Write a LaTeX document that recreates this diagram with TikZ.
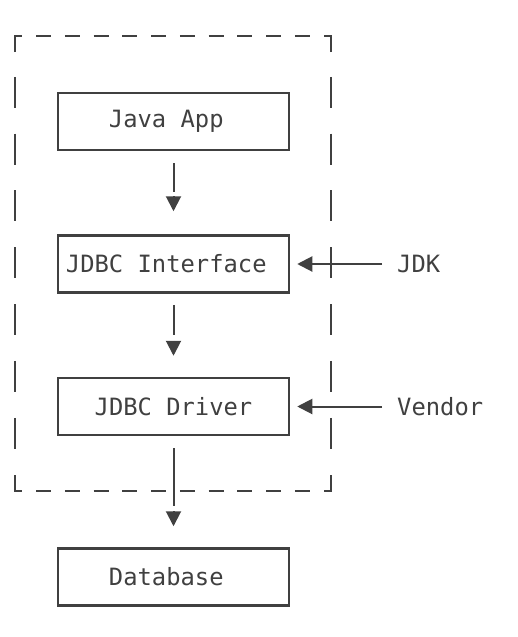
\documentclass[tikz,border=0pt]{standalone}
\usepackage{fontspec}
\setmonofont{DejaVu Sans Mono}
\usetikzlibrary{arrows.meta,calc}
\definecolor{ink}{HTML}{404040}
\begin{document}
\begin{tikzpicture}[x=1pt,y=-1pt,
  box/.style={draw=ink,line width=2.5pt,minimum width=231pt,minimum height=57pt,inner sep=0pt,
    font=\ttfamily\fontsize{23.8}{28}\selectfont,text=ink},
  lbl/.style={inner sep=0pt,anchor=west,font=\ttfamily\fontsize{23.8}{28}\selectfont,text=ink},
  conn/.style={draw=ink,line width=2pt},
  tip/.style={draw=ink,line width=2pt,-{Triangle[length=15pt,width=15pt]}},
  dashseg/.style={draw=ink,line width=2pt}]
\useasboundingbox (0,0) rectangle (517,637);
% dashed frame
\coordinate (tl) at (15,36);
\coordinate (tr) at (331,36);
\coordinate (bl) at (15,491);
\coordinate (br) at (331,491);
\draw[dashseg] (15,52) -- (tl) -- (22,36);
\draw[dashseg] (331,52) -- (tr) -- (324,36);
\draw[dashseg] (15,475) -- (bl) -- (22,491);
\draw[dashseg] (331,475) -- (br) -- (324,491);
\foreach \j in {1,...,10}{
  \pgfmathsetmacro{\cx}{15+28.73*\j}
  \draw[dashseg] (\cx-7.5,36) -- (\cx+7.5,36);
  \draw[dashseg] (\cx-7.5,491) -- (\cx+7.5,491);
}
\foreach \k in {1,...,7}{
  \pgfmathsetmacro{\cy}{20+56.83*\k}
  \draw[dashseg] (15,\cy) -- (15,\cy+31);
  \draw[dashseg] (331,\cy) -- (331,\cy+31);
}
% boxes
\node[box] (app) at (173.5,121.5) {Java App\kern14.4pt};
\node[box] (iface) at (173.5,264) {JDBC Interface\kern14.4pt};
\node[box] (drv) at (173.5,406.5) {JDBC Driver};
\node[box] (db) at (173.5,577) {Database\kern14.4pt};
% labels
\node[lbl] (jdk) at (397,264) {JDK};
\node[lbl] (vendor) at (397,406.5) {Vendor};
% vertical arrows
\draw[conn] ($(app.south)+(0,12)$) -- ($(iface.north)+(0,-42)$);
\draw[tip] ($(iface.north)+(0,-38)$) -- ($(iface.north)+(0,-23)$);
\draw[conn] ($(iface.south)+(0,11)$) -- ($(drv.north)+(0,-42)$);
\draw[tip] ($(drv.north)+(0,-36)$) -- ($(drv.north)+(0,-21)$);
\draw[conn] ($(drv.south)+(0,12)$) -- ($(db.north)+(0,-41)$);
\draw[tip] ($(db.north)+(0,-36)$) -- ($(db.north)+(0,-21)$);
% horizontal arrows
\draw[tip] ($(jdk.west)+(-15,0)$) -- ($(iface.east)+(7,0)$);
\draw[tip] ($(vendor.west)+(-15,0)$) -- ($(drv.east)+(7,0)$);
\end{tikzpicture}
\end{document}
